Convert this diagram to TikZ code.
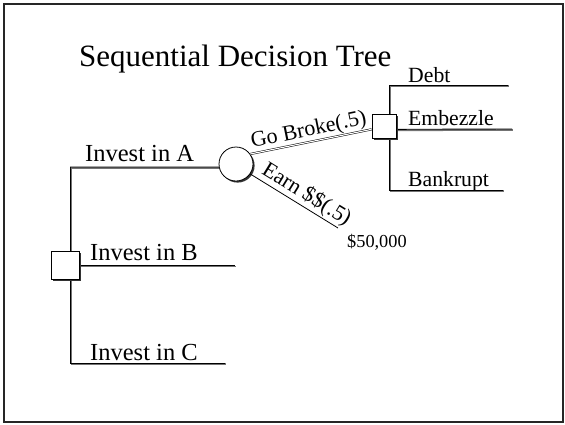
\documentclass[tikz,border=0pt]{standalone}
\usepackage{fontspec}
\setmainfont{Liberation Serif}
\usepackage{tikz}
\usetikzlibrary{shapes.geometric, shadows, positioning, calc, backgrounds}

\newcommand{\fsz}[1]{\fontsize{#1}{#1}\selectfont}

\begin{document}
\begin{tikzpicture}[x=1pt, y=-1pt,
    branch/.style={line width=0.9pt, preaction={draw, black!55, line width=1.6pt, transform canvas={xshift=0.8pt, yshift=-1pt}}},
    twin/.style={double, double distance=1.1pt, line width=0.5pt},
    decbox/.style={draw, fill=white, rectangle, line width=0.8pt, inner sep=0pt, drop shadow={shadow xshift=1.8pt, shadow yshift=-1.8pt, fill=black!80, opacity=1}},
    chancenode/.style={draw, fill=white, circle, line width=0.8pt, inner sep=0pt, minimum size=34pt, drop shadow={shadow xshift=1.6pt, shadow yshift=-1.6pt, fill=black!80, opacity=1}},
    big/.style={font=\fsz{24.5}, inner sep=0pt, anchor=base west},
    mid/.style={font=\fsz{21.7}, inner sep=0pt, anchor=base west}
]
    \useasboundingbox (0,0) rectangle (565,424);
    % slide frame
    \draw[black!85, line width=2pt] (4,4) rectangle (562.5,422);
    \node[font=\fsz{31}, inner sep=0pt, anchor=base west] (title) at (79,66.5) {Sequential Decision Tree};

    % decision and chance nodes
    \node[decbox, minimum size=28pt] (dec1) at (65,265.5) {};
    \node[chancenode] (chance) at (236,164) {};
    \node[decbox, minimum size=24pt] (dec2) at (384,126) {};

    % first decision
    \coordinate (trunkA) at (70,167);
    \coordinate (trunkC) at (70,363);
    \coordinate (endB) at (235,265.5);
    \coordinate (endC) at (225,363);
    \begin{scope}[on background layer]
        \draw[branch] (trunkA) -- (trunkC);
        \draw[branch] (trunkA) -- (chance.190);
        \draw[branch] (dec1.center) -- (endB);
        \draw[branch] (trunkC) -- (endC);
    \end{scope}
    \node[big] (labA) at (85,161.5) {Invest in A};
    \node[big] (labB) at (90,260) {Invest in B};
    \node[big] (labC) at (90,360) {Invest in C};

    % chance outcomes
    \coordinate (endEarn) at (338,228);
    \draw[twin] (chance.35) -- node[midway, sloped, above, font=\fsz{22}, inner sep=1pt] {Go Broke(.5)} (dec2.195);
    \draw[line width=0.8pt] (chance.-35) -- node[pos=0.57, sloped, above, font=\fsz{22}, inner sep=1.2pt] {Earn \$\$(.5)} (endEarn);
    \node[font=\fsz{18.3}, inner sep=0pt, anchor=base west] (payoff) at (347,247.5) {\$50,000};

    % second decision
    \coordinate (debtL) at (389,85);
    \coordinate (debtR) at (508,85);
    \coordinate (embR) at (512,129);
    \coordinate (bankL) at (389,190);
    \coordinate (bankR) at (503,190);
    \begin{scope}[on background layer]
        \draw[branch] (debtL) -- (bankL);
        \draw[branch] (debtL) -- (debtR);
        \draw[branch] (dec2.-15) -- (embR);
        \draw[branch] (bankL) -- (bankR);
    \end{scope}
    \node[mid] (labDebt) at (408,82) {Debt};
    \node[mid] (labEmb) at (408,125) {Embezzle};
    \node[mid] (labBank) at (408,186) {Bankrupt};
\end{tikzpicture}
\end{document}
